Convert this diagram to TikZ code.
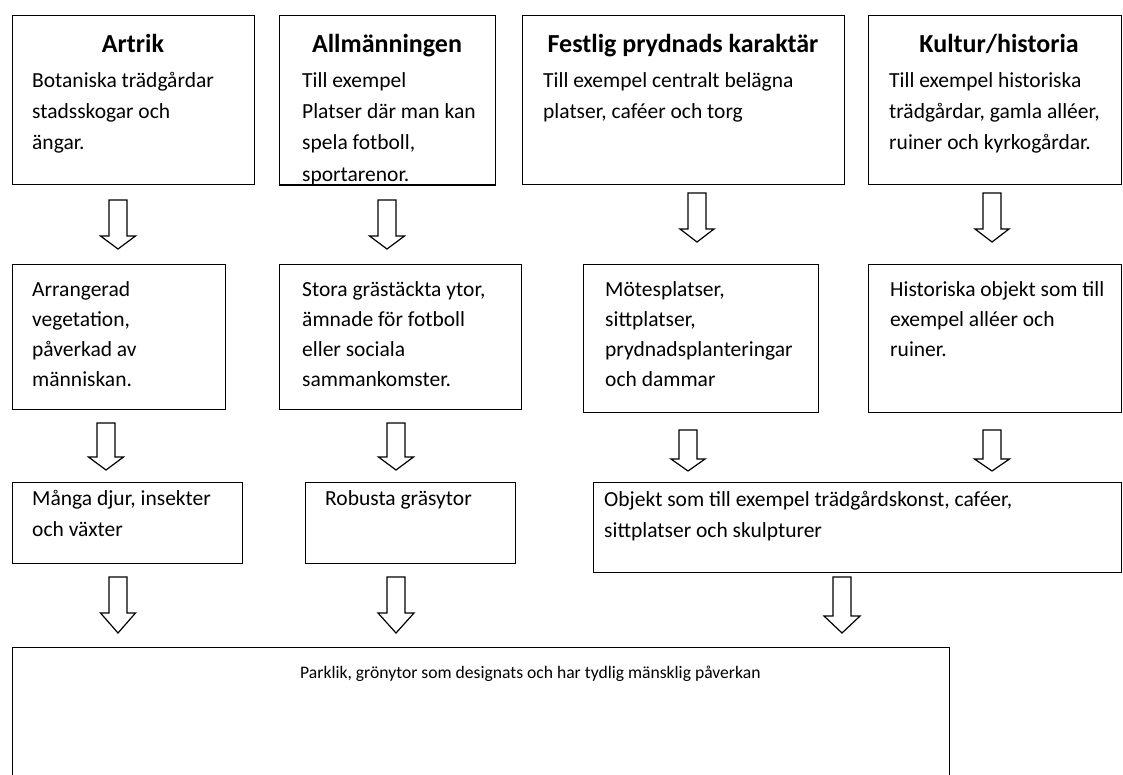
\documentclass[tikz,border=0pt]{standalone}
\usepackage{fontspec}
\setmainfont{Carlito}
\tikzset{
  box/.style={draw=black, line width=1.2pt, fill=white, rectangle, anchor=north west, inner sep=0pt},
  body/.style={font=\fontsize{21.5}{31}\selectfont, align=left, inner sep=0pt, anchor=base west},
  bodyb/.style={body, font=\fontsize{21.5}{30}\selectfont},
  small/.style={font=\fontsize{17.6}{22}\selectfont, inner sep=0pt, anchor=base west},
  ttl/.style={font=\fontsize{26}{30}\selectfont\bfseries, inner sep=0pt, anchor=base},
  blk/.style={draw=black, fill=white, line width=1.2pt, line join=miter}
}
\newcommand{\blockarrow}[7]{%
  \coordinate (#1) at (#2,#5);
  \draw[blk] ({#2-#6},#3) -- ({#2+#6},#3) -- ({#2+#6},#4) -- ({#2+#7},#4) -- (#1) -- ({#2-#7},#4) -- ({#2-#6},#4) -- cycle;}
\begin{document}
\begin{tikzpicture}[x=1pt,y=-1pt]
\useasboundingbox (0,0) rectangle (1123,774);
\fill[white] (0,0) rectangle (1123,774);
\clip (0,0) rectangle (1123,774);

% row 1 boxes
\node[box, minimum width=242, minimum height=169] (b1) at (12,15) {};
\node[box, minimum width=216, minimum height=169] (b2) at (279,15) {};
\node[box, minimum width=322, minimum height=169] (b3) at (522,15) {};
\node[box, minimum width=253, minimum height=169] (b4) at (868,15) {};

\node[ttl] (t1) at (133,52) {Artrik};
\node[ttl] (t2) at (387,52) {Allmänningen};
\node[ttl] (t3) at (683,52) {Festlig prydnads karaktär};
\node[ttl] (t4) at (999,52) {Kultur/historia};

% multi-line nodes: anchor is the baseline of the last line
\node[body] (x1) at (32,149) {Botaniska trädgårdar\\stadsskogar och\\ängar.};
\begin{scope}
\clip (b2.south west) rectangle (b2.north east);
\node[body] (x2) at (302,149) {Till exempel\\Platser där man kan\\spela fotboll,};
\node[body] (x2b) at (302,181) {sportarenor.};
\end{scope}
\draw[line width=1.2pt] (b2.south west) -- (b2.south east);
\node[body] (x3) at (543,118) {Till exempel centralt belägna\\platser, caféer och torg};
\node[body] (x4) at (889,149) {Till exempel historiska\\trädgårdar, gamla alléer,\\ruiner och kyrkogårdar.};

% row 1 arrows
\blockarrow{a1}{118}{200}{236}{249}{9}{17.5}
\blockarrow{a2}{387}{200}{236}{249}{9}{17.5}
\blockarrow{a3}{697}{193}{229}{242}{9}{17}
\blockarrow{a4}{992}{193}{229}{242}{9}{17}

% row 2 boxes
\node[box, minimum width=213, minimum height=145] (r2a) at (12,264) {};
\node[box, minimum width=242, minimum height=145] (r2b) at (279,264) {};
\node[box, minimum width=235, minimum height=148] (r2c) at (583,264) {};
\node[box, minimum width=253, minimum height=148] (r2d) at (868,264) {};

\node[bodyb] (y1) at (32,386) {Arrangerad\\vegetation,\\påverkad av\\människan.};
\node[bodyb] (y2) at (302,386) {Stora grästäckta ytor,\\ämnade för fotboll\\eller sociala\\sammankomster.};
\node[bodyb] (y3) at (605,386) {Mötesplatser,\\sittplatser,\\prydnadsplanteringar\\och dammar};
\node[bodyb] (y4) at (890,356) {Historiska objekt som till\\exempel alléer och\\ruiner.};

% row 2 arrows
\blockarrow{c1}{106}{423}{457}{470}{9}{17.5}
\blockarrow{c2}{396}{423}{457}{470}{9}{17.5}
\blockarrow{c3}{688}{430}{459}{471}{9}{17}
\blockarrow{c4}{992}{430}{459}{471}{9}{17.5}

% row 3 boxes
\node[box, minimum width=230, minimum height=81] (r3a) at (12,482) {};
\node[box, minimum width=210, minimum height=81] (r3b) at (305,482) {};
\node[box, minimum width=528, minimum height=90] (r3c) at (593,482) {};

\node[body] (z1) at (32,536) {Många djur, insekter\\och växter};
\node[body] (z2) at (325,505) {Robusta gräsytor};
\node[body] (z3) at (604,537) {Objekt som till exempel trädgårdskonst, caféer,\\sittplatser och skulpturer};

% row 3 arrows
\blockarrow{d1}{118}{577}{613}{633}{9}{17.5}
\blockarrow{d2}{396}{577}{613}{633}{9}{18}
\blockarrow{d3}{842}{577}{616}{633}{9}{18}

% bottom box
\node[box, minimum width=937, minimum height=200] (bot) at (12,647) {};
\node[small] (w1) at (300,678) {Parklik, grönytor som designats och har tydlig mänsklig påverkan};
\end{tikzpicture}
\end{document}
